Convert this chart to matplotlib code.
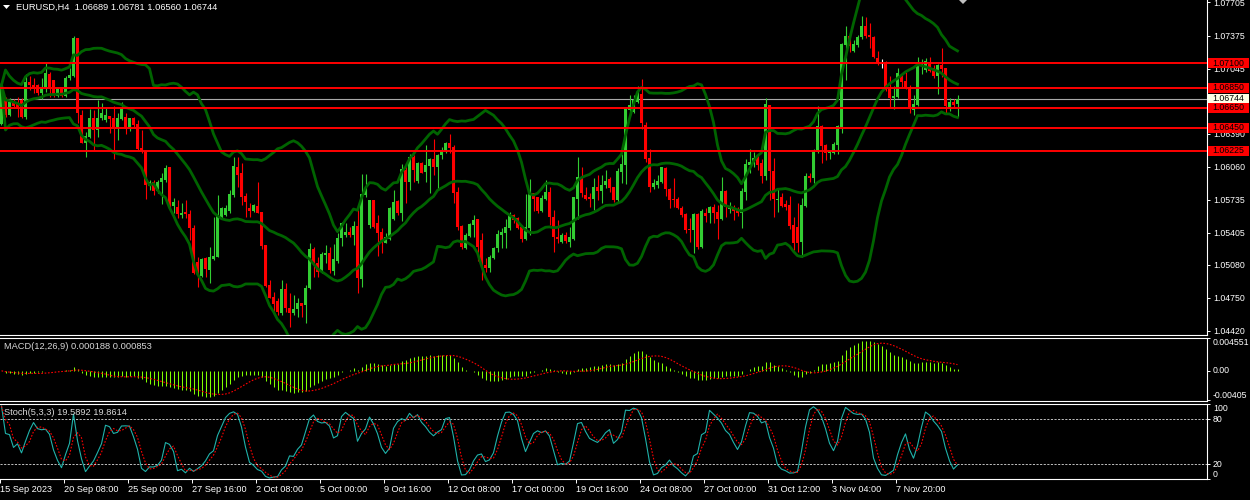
import numpy as np
import pandas as pd
import matplotlib
matplotlib.use("Agg")
import matplotlib.pyplot as plt
from matplotlib.patches import Rectangle, Polygon
from matplotlib.transforms import blended_transform_factory

plt.rcParams['font.family'] = ['Liberation Sans', 'DejaVu Sans']

# EURUSD H4 candles (oldest first)
opens = [
    1.0649, 1.0673, 1.0658, 1.0671, 1.0669, 1.0673, 1.0656, 1.0691, 1.0688, 1.0688,
    1.0680, 1.0685, 1.0699, 1.0693, 1.0677, 1.0686, 1.0677, 1.0695, 1.0697, 1.0735,
    1.0658, 1.0630, 1.0636, 1.0655, 1.0643, 1.0655, 1.0653, 1.0657, 1.0655, 1.0644,
    1.0654, 1.0656, 1.0644, 1.0655, 1.0649, 1.0625, 1.0622, 1.0587, 1.0591, 1.0582,
    1.0591, 1.0593, 1.0606, 1.0567, 1.0566, 1.0558, 1.0561, 1.0559, 1.0545, 1.0511,
    1.0497, 1.0515, 1.0503, 1.0514, 1.0516, 1.0556, 1.0558, 1.0562, 1.0578, 1.0606,
    1.0600, 1.0577, 1.0565, 1.0562, 1.0567, 1.0561, 1.0528, 1.0488, 1.0476, 1.0472,
    1.0460, 1.0484, 1.0465, 1.0460, 1.0464, 1.0470, 1.0468, 1.0485, 1.0524, 1.0510,
    1.0501, 1.0518, 1.0520, 1.0502, 1.0512, 1.0535, 1.0538, 1.0541, 1.0538, 1.0547,
    1.0494, 1.0578, 1.0548, 1.0573, 1.0550, 1.0541, 1.0530, 1.0534, 1.0554, 1.0572,
    1.0560, 1.0603, 1.0591, 1.0616, 1.0592, 1.0610, 1.0601, 1.0607, 1.0614, 1.0606,
    1.0618, 1.0621, 1.0630, 1.0626, 1.0581, 1.0547, 1.0525, 1.0537, 1.0548, 1.0554,
    1.0533, 1.0508, 1.0505, 1.0515, 1.0525, 1.0538, 1.0540, 1.0545, 1.0558, 1.0555,
    1.0546, 1.0534, 1.0545, 1.0580, 1.0576, 1.0562, 1.0574, 1.0581, 1.0556, 1.0536,
    1.0531, 1.0538, 1.0531, 1.0534, 1.0574, 1.0596, 1.0578, 1.0576, 1.0574, 1.0586,
    1.0582, 1.0588, 1.0594, 1.0586, 1.0573, 1.0601, 1.0608, 1.0663, 1.0661, 1.0671,
    1.0679, 1.0648, 1.0615, 1.0586, 1.0588, 1.0591, 1.0605, 1.0584, 1.0574, 1.0574,
    1.0565, 1.0559, 1.0544, 1.0543, 1.0559, 1.0526, 1.0560, 1.0560, 1.0566, 1.0561,
    1.0554, 1.0582, 1.0564, 1.0566, 1.0564, 1.0560, 1.0581, 1.0608, 1.0610, 1.0616,
    1.0610, 1.0597, 1.0668, 1.0602, 1.0573, 1.0576, 1.0569, 1.0568, 1.0548, 1.0546,
    1.0531, 1.0567, 1.0597, 1.0595, 1.0621, 1.0647, 1.0628, 1.0620, 1.0620, 1.0628,
    1.0646, 1.0728, 1.0737, 1.0722, 1.0728, 1.0736, 1.0747, 1.0738, 1.0736, 1.0715,
    1.0710, 1.0711, 1.0684, 1.0675, 1.0676, 1.0698, 1.0692, 1.0686, 1.0663, 1.0668,
    1.0708, 1.0703, 1.0711, 1.0705, 1.0697, 1.0708, 1.0705, 1.0665, 1.0671, 1.06689,
]
highs = [
    1.0689, 1.0676, 1.0675, 1.0674, 1.0676, 1.0675, 1.0699, 1.0697, 1.0695, 1.0689,
    1.0695, 1.0710, 1.0701, 1.0693, 1.0686, 1.0686, 1.0697, 1.0705, 1.0737, 1.0735,
    1.0663, 1.0641, 1.0664, 1.0663, 1.0673, 1.0670, 1.0665, 1.0657, 1.0667, 1.0660,
    1.0671, 1.0660, 1.0655, 1.0656, 1.0653, 1.0643, 1.0623, 1.0593, 1.0593, 1.0593,
    1.0600, 1.0608, 1.0606, 1.0575, 1.0573, 1.0570, 1.0573, 1.0563, 1.0548, 1.0516,
    1.0515, 1.0516, 1.0526, 1.0556, 1.0578, 1.0566, 1.0568, 1.0583, 1.0616, 1.0616,
    1.0610, 1.0580, 1.0570, 1.0569, 1.0591, 1.0561, 1.0528, 1.0493, 1.0481, 1.0475,
    1.0493, 1.0490, 1.0480, 1.0478, 1.0475, 1.0470, 1.0488, 1.0530, 1.0526, 1.0516,
    1.0521, 1.0528, 1.0526, 1.0529, 1.0540, 1.0551, 1.0550, 1.0546, 1.0552, 1.0567,
    1.0599, 1.0599, 1.0573, 1.0573, 1.0558, 1.0545, 1.0540, 1.0566, 1.0583, 1.0573,
    1.0609, 1.0610, 1.0619, 1.0618, 1.0611, 1.0611, 1.0628, 1.0615, 1.0634, 1.0619,
    1.0626, 1.0631, 1.0639, 1.0628, 1.0586, 1.0548, 1.0540, 1.0550, 1.0558, 1.0554,
    1.0540, 1.0515, 1.0518, 1.0526, 1.0543, 1.0545, 1.0554, 1.0561, 1.0559, 1.0556,
    1.0548, 1.0579, 1.0594, 1.0580, 1.0576, 1.0578, 1.0593, 1.0586, 1.0563, 1.0553,
    1.0540, 1.0541, 1.0546, 1.0576, 1.0616, 1.0606, 1.0586, 1.0580, 1.0595, 1.0598,
    1.0598, 1.0603, 1.0596, 1.0586, 1.0605, 1.0619, 1.0665, 1.0678, 1.0678, 1.0687,
    1.0694, 1.0651, 1.0624, 1.0594, 1.0598, 1.0606, 1.0606, 1.0585, 1.0595, 1.0576,
    1.0567, 1.0560, 1.0555, 1.0560, 1.0560, 1.0564, 1.0565, 1.0567, 1.0569, 1.0568,
    1.0596, 1.0583, 1.0571, 1.0568, 1.0566, 1.0585, 1.0614, 1.0624, 1.0621, 1.0618,
    1.0614, 1.0675, 1.0668, 1.0615, 1.0585, 1.0580, 1.0573, 1.0577, 1.0556, 1.0570,
    1.0575, 1.0600, 1.0600, 1.0624, 1.0667, 1.0648, 1.0629, 1.0623, 1.0631, 1.0648,
    1.0730, 1.0747, 1.0740, 1.0733, 1.0738, 1.0757, 1.0756, 1.0750, 1.0737, 1.0722,
    1.0714, 1.0712, 1.0697, 1.0687, 1.0705, 1.0700, 1.0701, 1.0688, 1.0678, 1.0716,
    1.0714, 1.0715, 1.0716, 1.0708, 1.0709, 1.0725, 1.0705, 1.0675, 1.0674, 1.06781,
]
lows = [
    1.0648, 1.0656, 1.0657, 1.0665, 1.0656, 1.0655, 1.0654, 1.0683, 1.0680, 1.0678,
    1.0674, 1.0681, 1.0676, 1.0676, 1.0676, 1.0676, 1.0676, 1.0693, 1.0696, 1.0650,
    1.0630, 1.0616, 1.0635, 1.0623, 1.0636, 1.0653, 1.0651, 1.0640, 1.0614, 1.0633,
    1.0653, 1.0639, 1.0642, 1.0646, 1.0623, 1.0620, 1.0574, 1.0583, 1.0578, 1.0580,
    1.0569, 1.0591, 1.0565, 1.0560, 1.0555, 1.0555, 1.0555, 1.0533, 1.0499, 1.0486,
    1.0496, 1.0496, 1.0490, 1.0513, 1.0516, 1.0555, 1.0557, 1.0560, 1.0576, 1.0586,
    1.0568, 1.0556, 1.0556, 1.0561, 1.0560, 1.0524, 1.0486, 1.0475, 1.0461, 1.0458,
    1.0458, 1.0461, 1.0446, 1.0458, 1.0456, 1.0456, 1.0450, 1.0484, 1.0496, 1.0496,
    1.0500, 1.0510, 1.0500, 1.0498, 1.0510, 1.0527, 1.0536, 1.0536, 1.0528, 1.0480,
    1.0486, 1.0576, 1.0545, 1.0545, 1.0517, 1.0520, 1.0530, 1.0533, 1.0553, 1.0558,
    1.0552, 1.0570, 1.0583, 1.0591, 1.0590, 1.0600, 1.0591, 1.0580, 1.0598, 1.0584,
    1.0614, 1.0620, 1.0620, 1.0570, 1.0543, 1.0524, 1.0524, 1.0536, 1.0536, 1.0512,
    1.0493, 1.0501, 1.0501, 1.0514, 1.0521, 1.0525, 1.0525, 1.0543, 1.0550, 1.0544,
    1.0531, 1.0533, 1.0538, 1.0562, 1.0560, 1.0561, 1.0573, 1.0548, 1.0521, 1.0530,
    1.0530, 1.0530, 1.0526, 1.0533, 1.0554, 1.0576, 1.0573, 1.0566, 1.0563, 1.0573,
    1.0570, 1.0585, 1.0581, 1.0571, 1.0570, 1.0590, 1.0589, 1.0658, 1.0660, 1.0670,
    1.0644, 1.0611, 1.0581, 1.0584, 1.0585, 1.0590, 1.0577, 1.0565, 1.0566, 1.0564,
    1.0556, 1.0540, 1.0531, 1.0520, 1.0524, 1.0525, 1.0551, 1.0550, 1.0550, 1.0534,
    1.0553, 1.0556, 1.0560, 1.0553, 1.0557, 1.0545, 1.0573, 1.0600, 1.0606, 1.0603,
    1.0590, 1.0593, 1.0573, 1.0556, 1.0561, 1.0566, 1.0563, 1.0544, 1.0523, 1.0521,
    1.0516, 1.0566, 1.0591, 1.0590, 1.0620, 1.0610, 1.0613, 1.0614, 1.0619, 1.0619,
    1.0640, 1.0693, 1.0721, 1.0721, 1.0726, 1.0734, 1.0735, 1.0725, 1.0715, 1.0708,
    1.0705, 1.0682, 1.0666, 1.0664, 1.0675, 1.0686, 1.0684, 1.0660, 1.0658, 1.0667,
    1.0699, 1.0701, 1.0701, 1.0695, 1.0679, 1.0696, 1.0660, 1.0662, 1.0666, 1.06560,
]
closes = [
    1.0688, 1.0658, 1.0671, 1.0667, 1.0664, 1.0656, 1.0691, 1.0688, 1.0685, 1.0680,
    1.0686, 1.0700, 1.0686, 1.0678, 1.0685, 1.0677, 1.0695, 1.0698, 1.0735, 1.0660,
    1.0630, 1.0637, 1.0655, 1.0643, 1.0655, 1.0660, 1.0658, 1.0654, 1.0645, 1.0655,
    1.0664, 1.0644, 1.0655, 1.0648, 1.0624, 1.0622, 1.0588, 1.0591, 1.0582, 1.0591,
    1.0595, 1.0605, 1.0566, 1.0571, 1.0559, 1.0560, 1.0559, 1.0545, 1.0500, 1.0501,
    1.0514, 1.0504, 1.0516, 1.0517, 1.0557, 1.0565, 1.0565, 1.0579, 1.0607, 1.0598,
    1.0576, 1.0571, 1.0562, 1.0568, 1.0560, 1.0527, 1.0487, 1.0475, 1.0469, 1.0461,
    1.0484, 1.0465, 1.0460, 1.0464, 1.0470, 1.0467, 1.0485, 1.0524, 1.0510, 1.0501,
    1.0519, 1.0520, 1.0503, 1.0514, 1.0535, 1.0550, 1.0541, 1.0538, 1.0547, 1.0495,
    1.0579, 1.0584, 1.0573, 1.0546, 1.0540, 1.0530, 1.0536, 1.0565, 1.0571, 1.0560,
    1.0604, 1.0591, 1.0616, 1.0603, 1.0610, 1.0600, 1.0608, 1.0614, 1.0606, 1.0618,
    1.0623, 1.0630, 1.0625, 1.0580, 1.0546, 1.0526, 1.0538, 1.0549, 1.0553, 1.0526,
    1.0508, 1.0505, 1.0516, 1.0525, 1.0539, 1.0541, 1.0546, 1.0558, 1.0553, 1.0545,
    1.0534, 1.0546, 1.0579, 1.0574, 1.0562, 1.0575, 1.0581, 1.0556, 1.0536, 1.0534,
    1.0538, 1.0532, 1.0536, 1.0576, 1.0596, 1.0580, 1.0574, 1.0574, 1.0586, 1.0582,
    1.0588, 1.0592, 1.0585, 1.0573, 1.0602, 1.0609, 1.0664, 1.0668, 1.0673, 1.0680,
    1.0650, 1.0614, 1.0586, 1.0590, 1.0592, 1.0606, 1.0584, 1.0573, 1.0573, 1.0565,
    1.0558, 1.0543, 1.0543, 1.0559, 1.0526, 1.0562, 1.0557, 1.0566, 1.0560, 1.0554,
    1.0582, 1.0566, 1.0565, 1.0562, 1.0560, 1.0582, 1.0609, 1.0611, 1.0615, 1.0608,
    1.0597, 1.0669, 1.0602, 1.0574, 1.0574, 1.0567, 1.0566, 1.0547, 1.0530, 1.0530,
    1.0568, 1.0597, 1.0595, 1.0623, 1.0647, 1.0627, 1.0620, 1.0621, 1.0629, 1.0647,
    1.0729, 1.0737, 1.0727, 1.0729, 1.0736, 1.0747, 1.0737, 1.0736, 1.0716, 1.0710,
    1.0710, 1.0683, 1.0675, 1.0677, 1.0700, 1.0691, 1.0685, 1.0665, 1.0669, 1.0709,
    1.0709, 1.0712, 1.0702, 1.0697, 1.0708, 1.0704, 1.0667, 1.0671, 1.0668, 1.06744,
]

level_prices = [1.07100, 1.06850, 1.06650, 1.06450, 1.06225]
price_ticks = [1.07705, 1.07375, 1.07045, 1.06715, 1.06390, 1.06060,
               1.05735, 1.05405, 1.05080, 1.04750, 1.04420]
time_tick_bars = [0, 16, 32, 48, 64, 80, 96, 112, 128, 144, 160, 176, 192, 208, 224]
time_tick_labels = ["15 Sep 2023", "20 Sep 08:00", "25 Sep 00:00", "27 Sep 16:00",
                    "2 Oct 08:00", "5 Oct 00:00", "9 Oct 16:00", "12 Oct 08:00",
                    "17 Oct 00:00", "19 Oct 16:00", "24 Oct 08:00", "27 Oct 00:00",
                    "31 Oct 12:00", "3 Nov 04:00", "7 Nov 20:00"]
macd_ticks = [0.004551, 0.0, -0.00405]
macd_tick_labels = ["0.004551", "0.00", "-0.00405"]
stoch_ticks = [100, 80, 20, 0]
macd_title = "MACD(12,26,9) 0.000188 0.000853"
stoch_title = "Stoch(5,3,3) 19.5892 19.8614"
symbol = "EURUSD,H4"

# layout in pixels of a 1250x500 canvas
W, H = 1250, 500
PLOT_RIGHT = 1207
BAR_PX = 4
AXIS_FS = 6.3

BULL = "#32CD32"
BEAR = "#FF0000"
BAND = "#006400"
FG = "white"


def indicators(o, h, l, c):
    close = pd.Series(c)
    mid = close.rolling(20, min_periods=1).mean()
    sd = close.rolling(20, min_periods=1).std(ddof=0)
    macd = close.ewm(span=12, adjust=False).mean() - close.ewm(span=26, adjust=False).mean()
    sig = macd.rolling(9, min_periods=1).mean()
    ll = pd.Series(l).rolling(5, min_periods=1).min()
    hh = pd.Series(h).rolling(5, min_periods=1).max()
    k = 100 * (close - ll).rolling(3, min_periods=1).sum() / (hh - ll).rolling(3, min_periods=1).sum()
    d = k.rolling(3, min_periods=1).mean()
    return mid, mid + 2 * sd, mid - 2 * sd, macd, sig, k, d


def add_panel(fig, top, bottom, sides):
    ax = fig.add_axes([0, 1 - bottom / H, PLOT_RIGHT / W, (bottom - top) / H])
    ax.set_facecolor("black")
    for s in ("left", "right", "top", "bottom"):
        ax.spines[s].set_visible(s in sides)
        ax.spines[s].set_color(FG)
        ax.spines[s].set_linewidth(0.8)
    ax.set_xlim(-0.375, (PLOT_RIGHT - 1.5) / BAR_PX)
    ax.yaxis.tick_right()
    ax.tick_params(axis="y", colors=FG, labelcolor=FG, length=2.5, width=0.7,
                   labelsize=AXIS_FS, pad=1.8)
    ax.set_xticks([])
    return ax


def price_box(fig, ax, y, text, face, fg):
    tr = blended_transform_factory(fig.transFigure, ax.transData)
    y0, y1 = ax.get_ylim()
    per_px = (y1 - y0) / (ax.get_position().height * H)
    ax.add_patch(Rectangle((1208 / W, y - 5 * per_px), 41 / W, 10 * per_px,
                           transform=tr, facecolor=face, edgecolor="none",
                           clip_on=False, zorder=8))
    ax.text(1228.5 / W, y, text, transform=tr, ha="center", va="center",
            color=fg, fontsize=AXIS_FS, clip_on=False, zorder=9)


o = np.array(opens)
h = np.array(highs)
l = np.array(lows)
c = np.array(closes)
x = np.arange(len(c))
mid, upper, lower, macd, sig, k, d = indicators(o, h, l, c)

fig = plt.figure(figsize=(W / 100, H / 100), dpi=100, facecolor="black")

# --- price window ---
ax = add_panel(fig, 0, 334.5, ("right", "bottom"))
ax.set_ylim(1.0773 - 334.5 / 10000, 1.0773)
ax.set_yticks(price_ticks)
ax.set_yticklabels([f"{p:.5f}" for p in price_ticks])

ax.axhline(c[-1], color="#A8A8A8", lw=0.8, zorder=1)

cols = np.where(c > o, BULL, np.where(c < o, BEAR, FG))
ax.vlines(x, l, h, colors=cols, lw=0.8, zorder=2)
body = c != o
ax.bar(x[body], np.abs(c - o)[body], bottom=np.minimum(o, c)[body], width=0.75,
       color=cols[body], linewidth=0, zorder=3)
ax.hlines(c[~body], x[~body] - 0.45, x[~body] + 0.45, colors=FG, lw=0.8, zorder=3)

for band in (upper, mid, lower):
    ax.plot(x, band, color=BAND, lw=2.0, zorder=4)

# bid label first so the level labels sit on top of it
price_box(fig, ax, c[-1], f"{c[-1]:.5f}", "#FFFFE6", "black")
for p in level_prices:
    ax.axhline(p, color="red", lw=1.4, zorder=5)
    price_box(fig, ax, p, f"{p:.5f}", "red", "black")

fig.text(16 / W, 1 - 7.5 / H, f"{symbol}  {o[-1]:.5f} {h[-1]:.5f} {l[-1]:.5f} {c[-1]:.5f}",
         color=FG, fontsize=6.7, va="center", ha="left")
fig.add_artist(Polygon([(3 / W, 1 - 5 / H), (10 / W, 1 - 5 / H), (6.5 / W, 1 - 9 / H)],
                       closed=True, transform=fig.transFigure, color=FG, lw=0))
fig.add_artist(Polygon([(959 / W, 1.0), (967 / W, 1.0), (963 / W, 1 - 4 / H)],
                       closed=True, transform=fig.transFigure, color="#C0C0C0", lw=0))

# --- MACD window ---
ax2 = add_panel(fig, 337.5, 401, ("right", "top", "bottom"))
k_macd = (0.004551 + 0.00405) / 62
ax2.set_ylim(-0.00405 - k_macd, 0.004551 + 0.5 * k_macd)
ax2.vlines(x, 0, macd, colors="#80FF00", lw=0.75)
ax2.plot(x, sig, color="red", lw=0.8, ls=(0, (1.5, 1.5)))
ax2.set_yticks(macd_ticks)
ax2.set_yticklabels(macd_tick_labels)
for lbl, va in zip(ax2.get_yticklabels(), ("top", "center", "bottom")):
    lbl.set_va(va)
ax2.text(4 / PLOT_RIGHT, 0.86, macd_title, transform=ax2.transAxes, color="#D8D8D8",
         fontsize=6.7, va="center", ha="left")

# --- Stochastic window ---
ax3 = add_panel(fig, 403.5, 479, ("right", "top", "bottom"))
ax3.set_ylim(0.4, 101.07)
for lvl in (80, 20):
    ax3.axhline(lvl, color="#C0C0C0", lw=0.7, ls=(0, (2.2, 1.5)))
ax3.plot(x, k, color="#20B2AA", lw=0.8)
ax3.plot(x, d, color="red", lw=0.8, ls=(0, (1.5, 1.5)))
ax3.set_yticks(stoch_ticks)
ax3.set_yticklabels([str(t) for t in stoch_ticks])
for lbl, va in zip(ax3.get_yticklabels(), ("top", "center", "center", "bottom")):
    lbl.set_va(va)
ax3.text(4 / PLOT_RIGHT, 0.88, stoch_title, transform=ax3.transAxes, color="#D8D8D8",
         fontsize=6.7, va="center", ha="left")

ax3.set_xticks(np.array(time_tick_bars) - 0.375)
ax3.set_xticklabels(time_tick_labels, ha="left")
ax3.tick_params(axis="x", colors=FG, labelcolor=FG, length=3, width=0.7,
                labelsize=6.6, pad=1.5)

fig.savefig("out.png", dpi=100, facecolor="black")
